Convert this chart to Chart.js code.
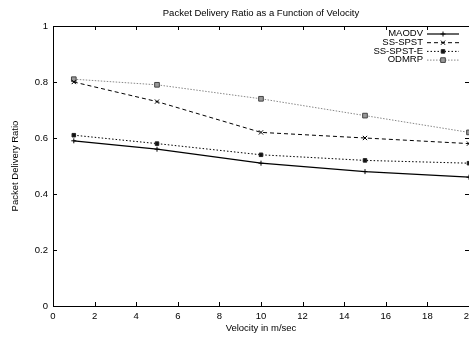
<!DOCTYPE html>
<html>
<head>
<meta charset="utf-8">
<script src="https://cdn.jsdelivr.net/npm/chart.js@4"></script>
<style>
  html, body { margin: 0; padding: 0; background: #fff; overflow: hidden; }
  #wrap { width: 469px; height: 337px; overflow: hidden; }
</style>
</head>
<body>
<div id="wrap"><canvas id="pdrChart" width="485" height="337"></canvas></div>
<script>
// velocity (m/sec) on x, delivery ratio on y
const velocity = [1, 5, 10, 15, 20];
const maodv = [0.59, 0.56, 0.51, 0.48, 0.46];
const ssSpst = [0.80, 0.73, 0.62, 0.60, 0.58];
const ssSpstE = [0.61, 0.58, 0.54, 0.52, 0.51];
const odmrp = [0.81, 0.79, 0.74, 0.68, 0.62];
const seriesNames = ["MAODV", "SS-SPST", "SS-SPST-E", "ODMRP"];
const xTicks = [0, 2, 4, 6, 8, 10, 12, 14, 16, 18, 20];
const yTicks = [0, 0.2, 0.4, 0.6, 0.8, 1];

const font = "'Liberation Sans', Arial, sans-serif";
Chart.defaults.font.family = font;
Chart.defaults.color = "#000";

const toPoints = (ys) => ys.map((y, i) => ({ x: velocity[i], y: y }));

// gnuplot style frame with inward ticks
const framePlugin = {
  id: "frame",
  beforeDatasetsDraw(chart) {
    const { ctx, chartArea: a, scales } = chart;
    ctx.save();
    ctx.strokeStyle = "#000";
    ctx.lineWidth = 1;
    ctx.strokeRect(a.left + 0.5, a.top + 0.5, a.right - a.left, a.bottom - a.top);
    ctx.beginPath();
    xTicks.forEach((t) => {
      const px = Math.round(scales.x.getPixelForValue(t)) + 0.5;
      ctx.moveTo(px, a.bottom); ctx.lineTo(px, a.bottom - 4);
      ctx.moveTo(px, a.top); ctx.lineTo(px, a.top + 4);
    });
    yTicks.forEach((t) => {
      const py = Math.round(scales.y.getPixelForValue(t)) + 0.5;
      ctx.moveTo(a.left, py); ctx.lineTo(a.left + 4, py);
      ctx.moveTo(a.right, py); ctx.lineTo(a.right - 4, py);
    });
    ctx.stroke();
    ctx.restore();
  },
  afterDraw(chart) {
    const { ctx, chartArea: a } = chart;
    ctx.save();
    ctx.fillStyle = "#000";
    ctx.font = "9.5px " + font;
    ctx.textAlign = "center";
    ctx.textBaseline = "middle";
    ctx.fillText("Packet Delivery Ratio as a Function of Velocity", (a.left + a.right) / 2, 13);

    // legend in the top right corner
    chart.data.datasets.forEach((ds, i) => {
      const y = 33.5 + i * 8.7;
      ctx.fillStyle = "#000";
      ctx.textAlign = "right";
      ctx.fillText(ds.label, 423, y);
      ctx.save();
      ctx.strokeStyle = ds.borderColor;
      ctx.lineWidth = ds.borderWidth;
      ctx.setLineDash(ds.borderDash || []);
      ctx.beginPath();
      ctx.moveTo(427, y + 0.5);
      ctx.lineTo(459, y + 0.5);
      ctx.stroke();
      ctx.restore();
      ctx.save();
      ctx.strokeStyle = ds.pointBorderColor;
      ctx.fillStyle = ds.pointBackgroundColor;
      ctx.lineWidth = 1;
      Chart.helpers.drawPoint(ctx, { pointStyle: ds.pointStyle, radius: ds.pointRadius, rotation: 0, borderWidth: 1 }, 443, y + 0.5);
      ctx.restore();
    });
    ctx.restore();
  }
};

const ctx = document.getElementById("pdrChart").getContext("2d");
window.pdrChart = new Chart(ctx, {
  type: "line",
  data: {
    datasets: [
      {
        label: seriesNames[0],
        data: toPoints(maodv),
        borderColor: "#000",
        borderWidth: 1.2,
        pointStyle: "cross",
        pointRadius: 2.5,
        pointBorderColor: "#000",
        pointBackgroundColor: "#000",
        pointBorderWidth: 1,
      },
      {
        label: seriesNames[1],
        data: toPoints(ssSpst),
        borderColor: "#000",
        borderWidth: 1,
        borderDash: [4, 3],
        pointStyle: "crossRot",
        pointRadius: 3,
        pointBorderColor: "#000",
        pointBackgroundColor: "#000",
        pointBorderWidth: 1,
      },
      {
        label: seriesNames[2],
        data: toPoints(ssSpstE),
        borderColor: "#000",
        borderWidth: 1,
        borderDash: [1.5, 2],
        pointStyle: "rect",
        pointRadius: 2.5,
        pointBorderColor: "#222",
        pointBackgroundColor: "#111",
        pointBorderWidth: 1,
      },
      {
        label: seriesNames[3],
        data: toPoints(odmrp),
        borderColor: "#888",
        borderWidth: 1,
        borderDash: [1.5, 1.5],
        pointStyle: "rect",
        pointRadius: 3.3,
        pointBorderColor: "#444",
        pointBackgroundColor: "#999",
        pointBorderWidth: 1,
      },
    ],
  },
  options: {
    responsive: false,
    animation: false,
    clip: false,
    layout: { padding: { top: 26, right: 16, left: 0, bottom: 0 } },
    elements: { line: { tension: 0 } },
    plugins: {
      legend: { display: false },
      title: { display: false },
      tooltip: { enabled: false },
    },
    scales: {
      x: {
        type: "linear",
        min: 0,
        max: 20,
        afterFit: (s) => { s.height = 31; },
        afterBuildTicks: (s) => { s.ticks = xTicks.map((v) => ({ value: v })); },
        grid: { display: false, drawTicks: false },
        border: { display: false },
        ticks: { padding: 5, font: { size: 9.5 }, maxRotation: 0, autoSkip: false },
        title: { display: true, text: "Velocity in m/sec", font: { size: 9.5 }, padding: { top: 0, bottom: 3.3 } },
      },
      y: {
        min: 0,
        max: 1,
        afterFit: (s) => { s.width = 53; },
        afterBuildTicks: (s) => { s.ticks = yTicks.map((v) => ({ value: v })); },
        grid: { display: false, drawTicks: false },
        border: { display: false },
        ticks: { padding: 5, font: { size: 9.5 }, callback: (v) => String(+v.toFixed(1)) },
        title: { display: true, text: "Packet Delivery Ratio", font: { size: 9.5 }, padding: { top: 9.8, bottom: 0 } },
      },
    },
  },
  plugins: [framePlugin],
});
</script>
</body>
</html>
